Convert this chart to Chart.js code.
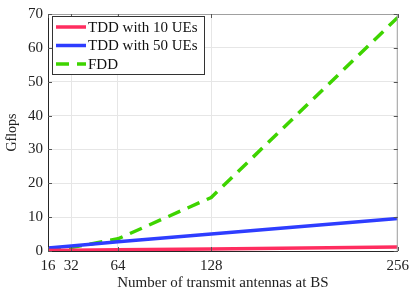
<!DOCTYPE html>
<html>
<head>
<meta charset="utf-8">
<script src="https://cdn.jsdelivr.net/npm/chart.js@4/dist/chart.umd.min.js"></script>
<style>
    html, body { margin: 0; padding: 0; background: #fff; }
    #wrap { width: 415px; height: 292px; }
</style>
</head>
<body>
<div id="wrap"><canvas id="flopsChart" width="415" height="292"></canvas></div>
<script>
    // Data
    const antennas = [16, 32, 64, 128, 256];
    const tdd10 = [0.15, 0.2, 0.35, 0.6, 1.2];
    const tdd50 = [0.9, 1.5, 2.7, 5.0, 9.6];
    const fdd = [0.4, 1.0, 3.6, 15.8, 69];
    const xTicks = [16, 32, 64, 128, 256];
    const yTicks = [0, 10, 20, 30, 40, 50, 60, 70];

    const serif = '"Liberation Serif", "DejaVu Serif", serif';

    function toPoints(values) {
        return antennas.map((a, i) => ({ x: a, y: values[i] }));
    }

    // Box around the plot area with inward ticks
    const framePlugin = {
        id: 'frame',
        afterDatasetsDraw(chart) {
            const { ctx, chartArea: a, scales } = chart;
            ctx.save();
            ctx.strokeStyle = '#262626';
            ctx.lineWidth = 1;
            ctx.beginPath();
            ctx.moveTo(a.left + 0.5, a.top);
            ctx.lineTo(a.left + 0.5, a.bottom + 0.5);
            ctx.lineTo(a.right, a.bottom + 0.5);
            ctx.stroke();
            ctx.strokeStyle = '#a0a0a0';
            ctx.beginPath();
            ctx.moveTo(a.left, a.top + 0.5);
            ctx.lineTo(a.right - 0.5, a.top + 0.5);
            ctx.lineTo(a.right - 0.5, a.bottom);
            ctx.stroke();
            ctx.strokeStyle = '#555';
            ctx.beginPath();
            yTicks.forEach(v => {
                const y = Math.round(scales.y.getPixelForValue(v)) + 0.5;
                ctx.moveTo(a.left, y); ctx.lineTo(a.left + 4, y);
                ctx.moveTo(a.right, y); ctx.lineTo(a.right - 4, y);
            });
            xTicks.forEach(v => {
                const x = Math.round(scales.x.getPixelForValue(v)) + 0.5;
                ctx.moveTo(x, a.bottom); ctx.lineTo(x, a.bottom - 4);
                ctx.moveTo(x, a.top); ctx.lineTo(x, a.top + 4);
            });
            ctx.stroke();
            ctx.restore();
        }
    };

    // Legend drawn inside the plot, top-left corner
    const insideLegend = {
        id: 'insideLegend',
        afterDraw(chart) {
            const { ctx, chartArea: a } = chart;
            const x0 = a.left + 4, y0 = a.top + 2;
            const w = 152, h = 58;
            ctx.save();
            ctx.fillStyle = '#fff';
            ctx.fillRect(x0, y0, w, h);
            ctx.strokeStyle = '#333';
            ctx.lineWidth = 1;
            ctx.strokeRect(x0 + 0.5, y0 + 0.5, w, h);
            ctx.font = '15px ' + serif;
            ctx.textBaseline = 'middle';
            chart.data.datasets.forEach((ds, i) => {
                const y = y0 + 11 + i * 18.5;
                ctx.strokeStyle = ds.borderColor;
                ctx.lineWidth = ds.borderWidth;
                ctx.setLineDash(ds.borderDash || []);
                ctx.beginPath();
                ctx.moveTo(x0 + 4, y);
                ctx.lineTo(x0 + 34, y);
                ctx.stroke();
                ctx.setLineDash([]);
                ctx.fillStyle = '#111';
                ctx.fillText(ds.label, x0 + 36, y + 1);
            });
            ctx.restore();
        }
    };

    const ctx = document.getElementById('flopsChart').getContext('2d');
    new Chart(ctx, {
        type: 'line',
        data: {
            datasets: [{
                label: 'TDD with 10 UEs',
                data: toPoints(tdd10),
                borderColor: '#ff2d5f',
                borderWidth: 3.5,
                pointRadius: 0
            }, {
                label: 'TDD with 50 UEs',
                data: toPoints(tdd50),
                borderColor: '#2e3dff',
                borderWidth: 3.5,
                pointRadius: 0
            }, {
                label: 'FDD',
                data: toPoints(fdd),
                borderColor: '#3ed400',
                borderWidth: 3.5,
                borderDash: [13, 8],
                pointRadius: 0
            }]
        },
        options: {
            responsive: false,
            animation: false,
            layout: { padding: { left: 4, right: 17, top: 12, bottom: 0 } },
            plugins: {
                legend: { display: false },
                tooltip: { enabled: false }
            },
            scales: {
                x: {
                    type: 'linear',
                    min: 16,
                    max: 256,
                    afterBuildTicks: axis => { axis.ticks = xTicks.map(v => ({ value: v })); },
                    afterFit: axis => { axis.height = 41; },
                    grid: { color: '#e6e6e6', drawTicks: false },
                    border: { display: false },
                    ticks: {
                        color: '#222',
                        font: { family: serif, size: 15 },
                        padding: 6,
                        maxRotation: 0,
                        autoSkip: false
                    },
                    title: {
                        display: true,
                        text: 'Number of transmit antennas at BS',
                        color: '#222',
                        font: { family: serif, size: 15 },
                        padding: { top: 2, bottom: 0 }
                    }
                },
                y: {
                    min: 0,
                    max: 70,
                    afterBuildTicks: axis => { axis.ticks = yTicks.map(v => ({ value: v })); },
                    afterFit: axis => { axis.width = 44; },
                    grid: { color: '#e6e6e6', drawTicks: false },
                    border: { display: false },
                    ticks: {
                        color: '#222',
                        font: { family: serif, size: 15 },
                        padding: 5
                    },
                    title: {
                        display: true,
                        text: 'Gflops',
                        color: '#222',
                        font: { family: serif, size: 14 },
                        padding: { top: 0, bottom: 2 }
                    }
                }
            }
        },
        plugins: [framePlugin, insideLegend]
    });
</script>
</body>
</html>
